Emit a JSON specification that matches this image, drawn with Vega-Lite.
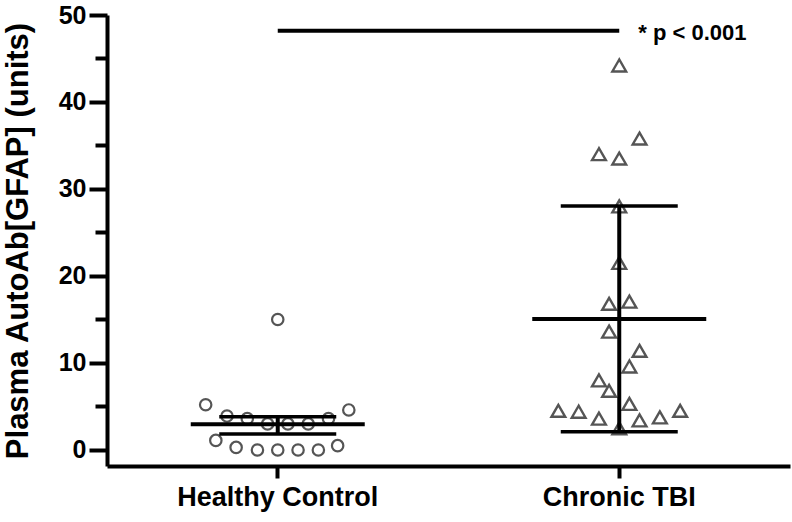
{
  "$schema": "https://vega.github.io/schema/vega-lite/v6.json",
  "width": 683,
  "height": 451,
  "autosize": {"type": "none"},
  "padding": {"left": 107, "top": 15, "right": 2, "bottom": 56},
  "background": "white",
  "config": {"view": {"stroke": null}, "font": "Liberation Sans"},
  "datasets": {
    "points": [
      {"group": "Healthy Control", "value": 15.0, "col": 0},
      {"group": "Healthy Control", "value": 5.2, "col": -3.55},
      {"group": "Healthy Control", "value": 4.6, "col": 3.5},
      {"group": "Healthy Control", "value": 3.9, "col": -2.5},
      {"group": "Healthy Control", "value": 3.6, "col": -1.5},
      {"group": "Healthy Control", "value": 3.0, "col": -0.5},
      {"group": "Healthy Control", "value": 3.0, "col": 0.5},
      {"group": "Healthy Control", "value": 3.0, "col": 1.5},
      {"group": "Healthy Control", "value": 3.6, "col": 2.5},
      {"group": "Healthy Control", "value": 1.1, "col": -3.05},
      {"group": "Healthy Control", "value": 0.5, "col": 2.95},
      {"group": "Healthy Control", "value": 0.3, "col": -2.05},
      {"group": "Healthy Control", "value": 0.0, "col": -1.0},
      {"group": "Healthy Control", "value": 0.0, "col": 0},
      {"group": "Healthy Control", "value": 0.0, "col": 1.0},
      {"group": "Healthy Control", "value": 0.0, "col": 2.0},
      {"group": "Chronic TBI", "value": 44.2, "col": 0},
      {"group": "Chronic TBI", "value": 35.8, "col": 1},
      {"group": "Chronic TBI", "value": 34.0, "col": -1},
      {"group": "Chronic TBI", "value": 33.5, "col": 0},
      {"group": "Chronic TBI", "value": 28.0, "col": 0},
      {"group": "Chronic TBI", "value": 21.5, "col": 0},
      {"group": "Chronic TBI", "value": 16.8, "col": -0.5},
      {"group": "Chronic TBI", "value": 17.05, "col": 0.5},
      {"group": "Chronic TBI", "value": 13.6, "col": -0.5},
      {"group": "Chronic TBI", "value": 11.4, "col": 1},
      {"group": "Chronic TBI", "value": 9.6, "col": 0.5},
      {"group": "Chronic TBI", "value": 8.0, "col": -1},
      {"group": "Chronic TBI", "value": 6.8, "col": -0.5},
      {"group": "Chronic TBI", "value": 5.3, "col": 0.5},
      {"group": "Chronic TBI", "value": 4.5, "col": -3},
      {"group": "Chronic TBI", "value": 4.4, "col": -2},
      {"group": "Chronic TBI", "value": 3.6, "col": -1},
      {"group": "Chronic TBI", "value": 3.4, "col": 1},
      {"group": "Chronic TBI", "value": 3.75, "col": 2},
      {"group": "Chronic TBI", "value": 4.5, "col": 3},
      {"group": "Chronic TBI", "value": 2.5, "col": 0}
    ],
    "summary": [
      {"group": "Healthy Control", "mean": 2.95, "lo": 1.84, "hi": 3.83},
      {"group": "Chronic TBI", "mean": 15.06, "lo": 2.1, "hi": 28.05}
    ],
    "sig": [
      {"group": "Healthy Control", "group2": "Chronic TBI", "y": 48.2, "label": "* p < 0.001"}
    ]
  },
  "encoding": {
    "x": {
      "field": "group",
      "type": "nominal",
      "sort": ["Healthy Control", "Chronic TBI"],
      "scale": {"domain": ["Healthy Control", "Chronic TBI"], "paddingInner": 0, "paddingOuter": 0},
      "axis": {
        "title": null,
        "labelAngle": 0,
        "labelFontSize": 27,
        "labelFontWeight": "bold",
        "labelColor": "black",
        "labelLimit": 0,
        "labelPadding": 6,
        "tickSize": 12,
        "tickWidth": 4,
        "tickColor": "black",
        "domainWidth": 4,
        "domainColor": "black",
        "grid": false
      }
    }
  },
  "layer": [
    {
      "data": {"name": "points"},
      "transform": [{"filter": "datum.group === 'Healthy Control'"}],
      "mark": {"type": "point", "shape": "circle", "filled": false, "size": 130, "strokeWidth": 2.2, "color": "#555555", "opacity": 1},
      "encoding": {
        "xOffset": {"field": "col", "type": "quantitative", "scale": {"domain": [-8.41, 8.41]}},
        "y": {
          "field": "value",
          "type": "quantitative",
          "scale": {"domain": [-1.84, 50], "nice": false, "zero": false},
          "axis": {
            "title": "Plasma AutoAb[GFAP] (units)",
            "titleFontSize": 31,
            "titleFontWeight": "bold",
            "titleColor": "black",
            "titlePadding": 24,
            "values": [0, 5, 10, 15, 20, 25, 30, 35, 40, 45, 50],
            "labelExpr": "datum.value % 10 === 0 ? datum.label : ''",
            "labelFontSize": 25,
            "labelFontWeight": "bold",
            "labelColor": "black",
            "labelPadding": 3,
            "tickSize": {"condition": {"test": "datum.value % 10 === 0", "value": 18}, "value": 12},
            "tickWidth": 4,
            "tickColor": "black",
            "domainWidth": 4,
            "domainColor": "black",
            "grid": false
          }
        }
      }
    },
    {
      "data": {"name": "points"},
      "transform": [{"filter": "datum.group === 'Chronic TBI'"}],
      "mark": {"type": "point", "shape": "triangle-up", "filled": false, "size": 190, "strokeWidth": 2.4, "color": "#555555", "opacity": 1},
      "encoding": {
        "xOffset": {"field": "col", "type": "quantitative", "scale": {"domain": [-8.41, 8.41]}},
        "y": {"field": "value", "type": "quantitative"}
      }
    },
    {
      "data": {"name": "summary"},
      "mark": {"type": "rule", "color": "black", "strokeWidth": 4},
      "encoding": {
        "y": {"field": "lo", "type": "quantitative"},
        "y2": {"field": "hi"}
      }
    },
    {
      "data": {"name": "summary"},
      "mark": {"type": "tick", "color": "black", "thickness": 4, "size": 174, "opacity": 1},
      "encoding": {"y": {"field": "mean", "type": "quantitative"}}
    },
    {
      "data": {"name": "summary"},
      "mark": {"type": "tick", "color": "black", "thickness": 3.5, "size": 117, "opacity": 1},
      "encoding": {"y": {"field": "lo", "type": "quantitative"}}
    },
    {
      "data": {"name": "summary"},
      "mark": {"type": "tick", "color": "black", "thickness": 3.5, "size": 117, "opacity": 1},
      "encoding": {"y": {"field": "hi", "type": "quantitative"}}
    },
    {
      "data": {"name": "sig"},
      "mark": {"type": "rule", "color": "black", "strokeWidth": 4},
      "encoding": {
        "x2": {"field": "group2"},
        "y": {"field": "y", "type": "quantitative"}
      }
    },
    {
      "data": {"name": "sig"},
      "mark": {"type": "text", "align": "left", "baseline": "middle", "dx": 19, "dy": 2, "fontSize": 22, "fontWeight": "bold", "color": "black"},
      "encoding": {
        "x": {"field": "group2", "type": "nominal"},
        "y": {"field": "y", "type": "quantitative"},
        "text": {"field": "label"}
      }
    }
  ]
}
